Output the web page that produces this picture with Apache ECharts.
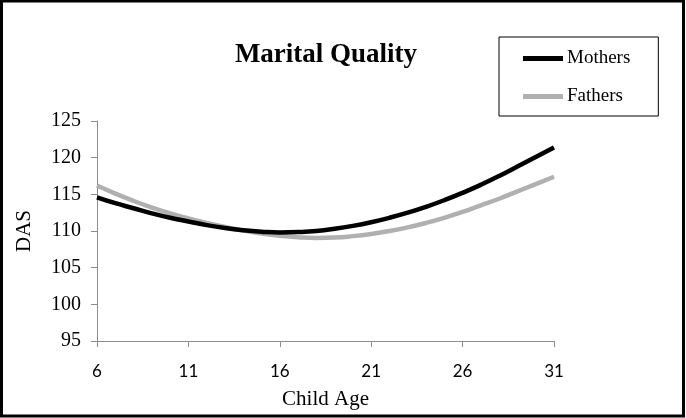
<!DOCTYPE html>
<html>
<head>
<meta charset="utf-8">
<script src="https://cdn.jsdelivr.net/npm/echarts@6/dist/echarts.min.js"></script>
<style>
  html, body { margin: 0; padding: 0; background: #fff; }
  #main { width: 686px; height: 418px; }
</style>
</head>
<body>
<div id="main"></div>
<script>
'use strict'
// values, one per year of child age
var ages = [6, 7, 8, 9, 10, 11, 12, 13, 14, 15, 16, 17, 18, 19, 20, 21, 22, 23, 24, 25, 26, 27, 28, 29, 30, 31];
var mothers = [114.6, 113.8, 113.1, 112.4, 111.8, 111.3, 110.8, 110.4, 110.1, 109.9, 109.8, 109.85, 110.0, 110.3,
               110.7, 111.2, 111.8, 112.5, 113.3, 114.2, 115.2, 116.3, 117.5, 118.8, 120.1, 121.4];
var fathers = [116.2, 115.1, 114.1, 113.2, 112.4, 111.7, 111.1, 110.55, 110.05, 109.65, 109.35, 109.15, 109.05, 109.1,
               109.3, 109.6, 110.0, 110.5, 111.1, 111.8, 112.6, 113.5, 114.4, 115.4, 116.4, 117.4];
var seriesNames = ['Mothers', 'Fathers'];

function pairs(vals) {
    return ages.map(function (a, i) { return [a, vals[i]]; });
}

var serif = '"Liberation Serif", "Times New Roman", serif';
var chart = echarts.init(document.getElementById('main'));
var option = {
    animation: false,
    backgroundColor: '#fff',
    title: {
        text: 'Marital Quality',
        left: 321,
        top: 37,
        textAlign: 'center',
        textStyle: { fontFamily: serif, fontWeight: 'bold', fontSize: 27, color: '#000' }
    },
    legend: {
        data: seriesNames,
        orient: 'vertical',
        left: 499,
        top: 37,
        padding: [12, 28, 10, 24],
        itemGap: 19,
        itemWidth: 40,
        itemHeight: 5,
        icon: 'rect',
        borderColor: '#000',
        borderWidth: 1,
        textStyle: { fontFamily: serif, fontSize: 19, color: '#000', padding: [0, 0, 0, -1] }
    },
    grid: { left: 97, right: 132, top: 121, bottom: 77 },
    xAxis: {
        type: 'value',
        min: 6,
        max: 31,
        interval: 5,
        name: 'Child Age',
        nameLocation: 'middle',
        nameGap: 48,
        nameTextStyle: { fontFamily: serif, fontSize: 21, color: '#000' },
        splitLine: { show: false },
        axisLine: { lineStyle: { color: '#8c8c8c', width: 1 } },
        axisTick: { show: true, length: 6, lineStyle: { color: '#8c8c8c' } },
        axisLabel: { fontFamily: 'Lato, "Open Sans", sans-serif', fontSize: 17, color: '#000', margin: 22 }
    },
    yAxis: {
        type: 'value',
        min: 95,
        max: 125,
        interval: 5,
        name: 'DAS',
        nameLocation: 'middle',
        nameRotate: 90,
        nameGap: 62,
        nameTextStyle: { fontFamily: serif, fontSize: 21, color: '#000' },
        splitLine: { show: false },
        axisLine: { show: true, lineStyle: { color: '#8c8c8c', width: 1 } },
        axisTick: { show: true, length: 6, lineStyle: { color: '#8c8c8c' } },
        axisLabel: { fontFamily: serif, fontSize: 20, color: '#000', margin: 16 }
    },
    series: [{
        name: 'Mothers',
        type: 'line',
        smooth: true,
        showSymbol: false,
        color: '#000',
        lineStyle: { width: 4.5, color: '#000' },
        data: pairs(mothers),
        z: 3
    }, {
        name: 'Fathers',
        type: 'line',
        smooth: true,
        showSymbol: false,
        color: '#b0b0b0',
        lineStyle: { width: 4.5, color: '#b0b0b0' },
        data: pairs(fathers),
        z: 2
    }],
    graphic: [{
        type: 'rect',
        shape: { x: 1.5, y: 1, width: 682, height: 415 },
        style: { fill: 'none', stroke: '#000', lineWidth: 3 },
        silent: true
    }]
};
chart.setOption(option);
</script>
</body>
</html>
